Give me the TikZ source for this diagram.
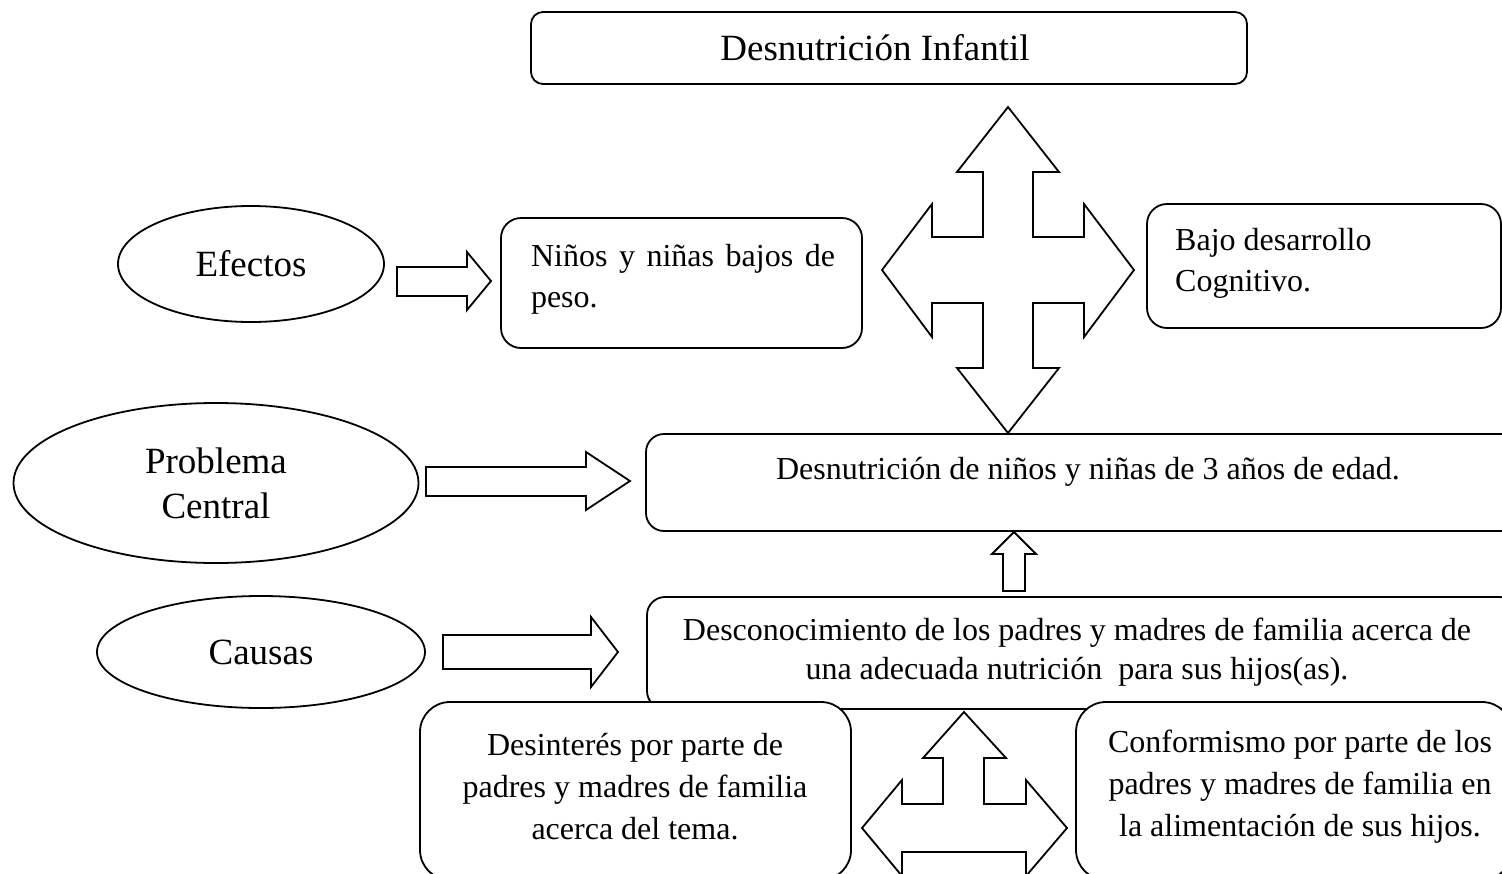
\documentclass[tikz,border=0pt]{standalone}
\usepackage{fontspec}
\setmainfont{Liberation Serif}
\usetikzlibrary{shapes.geometric}
\begin{document}
\begin{tikzpicture}[x=1pt,y=-1pt,
  rbox/.style={draw, line width=1.8pt, fill=white, inner sep=0pt, outer sep=0pt},
  oval/.style={draw, ellipse, line width=1.8pt, inner sep=0pt, align=center},
  small/.style={font=\fontsize{32}{41}\selectfont, inner sep=0pt},
  large/.style={font=\fontsize{37}{45}\selectfont},
  blockarrow/.style={draw, line width=1.8pt, line join=miter, fill=white}]
\useasboundingbox (0,0) rectangle (1502,873);
\clip (0,0) rectangle (1502,873);

% title
\node[rbox, rounded corners=12pt, minimum width=716pt, minimum height=72pt] (top) at (889,48) {};
\node[large, inner sep=0pt] (toptext) at (875,48) {Desnutrición Infantil};

% ellipses
\node[oval, large, minimum width=266pt, minimum height=116pt] (efectos) at (251,264) {Efectos};
\node[oval, large, minimum width=405pt, minimum height=160pt] (problema) at (216,483) {Problema\\Central};
\node[oval, large, minimum width=328pt, minimum height=112pt] (causas) at (261,652) {Causas};

% effect boxes
\node[rbox, rounded corners=20pt, minimum width=361pt, minimum height=130pt] (ninos) at (681.5,283) {};
\node[small, text width=304pt, align=justify] (ninostext) at (683,279) {Niños y niñas bajos de peso.};
\node[rbox, rounded corners=20pt, minimum width=354pt, minimum height=124pt] (bajo) at (1324,266) {};
\node[small, align=left, anchor=west] (bajotext) at (1175,263) {Bajo desarrollo\\Cognitivo.};

% central problem
\node[rbox, rounded corners=18pt, minimum width=884pt, minimum height=97pt] (central) at (1088,482.5) {};
\node[small] (centraltext) at (1088,472) {Desnutrición de niños y niñas de 3 años de edad.};

% causes
\node[rbox, rounded corners=18pt, minimum width=871pt, minimum height=112pt] (causa) at (1082.5,653) {};
\node[small, font=\fontsize{32}{39}\selectfont, align=center] (causatext) at (1077,652) {Desconocimiento de los padres y madres de familia acerca de\\una adecuada nutrición\ \ para sus hijos(as).};

\node[rbox, rounded corners=30pt, minimum width=431pt, minimum height=178pt] (desin) at (635.5,791) {};
\node[small, font=\fontsize{32}{42}\selectfont, align=center] (desintext) at (635,787) {Desinterés por parte de\\padres y madres de familia\\acerca del tema.};
\node[rbox, rounded corners=30pt, minimum width=436pt, minimum height=178pt] (confor) at (1294,791) {};
\node[small, font=\fontsize{32}{42}\selectfont, align=center] (confortext) at (1300,787) {Conformismo por parte de los\\padres y madres de familia en\\la alimentación de sus hijos.};

% block arrows
\draw[blockarrow] (397,267) -- (467,267) -- (467,252) -- (491,281) -- (467,310) -- (467,296) -- (397,296) -- cycle;
\draw[blockarrow] (426,467) -- (586,467) -- (586,452) -- (630,481) -- (586,510) -- (586,496) -- (426,496) -- cycle;
\draw[blockarrow] (443,635) -- (591,635) -- (591,617) -- (618,652) -- (591,687) -- (591,669) -- (443,669) -- cycle;
\draw[blockarrow] (1003,591) -- (1003,554) -- (992,554) -- (1014,532) -- (1036,554) -- (1025,554) -- (1025,591) -- cycle;

% four-way arrow
\draw[blockarrow] (1008,107) -- (1059,172) -- (1033,172) -- (1033,237) -- (1084,237) -- (1084,204) -- (1134,270) -- (1084,337) -- (1084,303) -- (1033,303) -- (1033,368) -- (1059,368) -- (1008,433) -- (957,368) -- (983,368) -- (983,303) -- (932,303) -- (932,337) -- (882,270) -- (932,204) -- (932,237) -- (983,237) -- (983,172) -- (957,172) -- cycle;

% three-way arrow
\draw[blockarrow] (964,712) -- (1006,758) -- (984,758) -- (984,804) -- (1026,804) -- (1026,780) -- (1067,828) -- (1026,876) -- (1026,852) -- (902,852) -- (902,876) -- (862,828) -- (902,780) -- (902,804) -- (943,804) -- (943,758) -- (923,758) -- cycle;
\end{tikzpicture}
\end{document}
